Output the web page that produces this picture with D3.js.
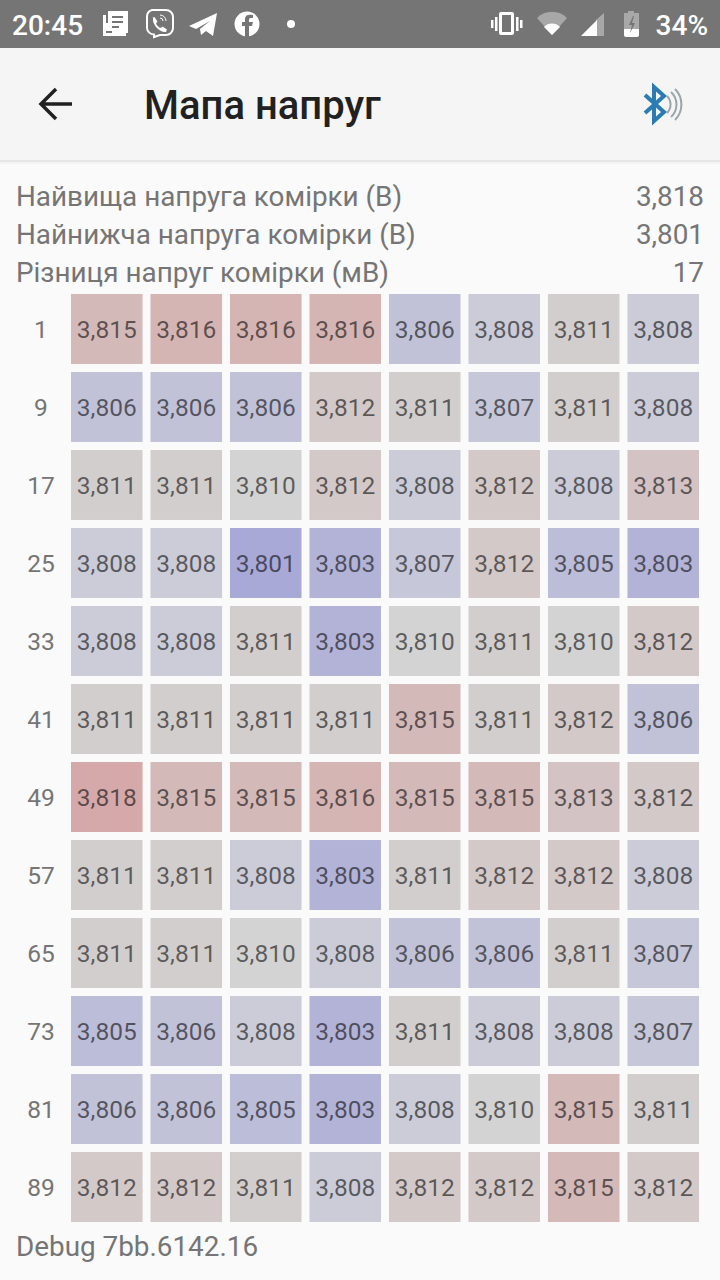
<!DOCTYPE html>
<meta charset="utf-8">
<style>
html, body { margin: 0; padding: 0; background: #fafafa; }
svg { display: block; font-family: Roboto, sans-serif; }
.cell text { font-size: 24.5px; fill: #000; fill-opacity: 0.58; text-anchor: middle; }
.row-label { font-size: 24.5px; fill: #757575; text-anchor: middle; }
.info { font-size: 27.85px; fill: #757575; }
</style>
<svg width="720" height="1280"></svg>
<script src="https://d3js.org/d3.v7.min.js"></script>
<script>

var svg = d3.select("svg"),
    width = +svg.attr("width"),
    height = +svg.attr("height");

// row start numbers, cell voltages in mV above 3 V (3,815 -> 815)
var rowLabels = [1, 9, 17, 25, 33, 41, 49, 57, 65, 73, 81, 89];
var columns = [0, 1, 2, 3, 4, 5, 6, 7];
var voltages = [
  [815, 816, 816, 816, 806, 808, 811, 808],
  [806, 806, 806, 812, 811, 807, 811, 808],
  [811, 811, 810, 812, 808, 812, 808, 813],
  [808, 808, 801, 803, 807, 812, 805, 803],
  [808, 808, 811, 803, 810, 811, 810, 812],
  [811, 811, 811, 811, 815, 811, 812, 806],
  [818, 815, 815, 816, 815, 815, 813, 812],
  [811, 811, 808, 803, 811, 812, 812, 808],
  [811, 811, 810, 808, 806, 806, 811, 807],
  [805, 806, 808, 803, 811, 808, 808, 807],
  [806, 806, 805, 803, 808, 810, 815, 811],
  [812, 812, 811, 808, 812, 812, 815, 812]
];
var infoLabels = ["Найвища напруга комірки (В)", "Найнижча напруга комірки (В)", "Різниця напруг комірки (мВ)"];
var infoValues = ["3,818", "3,801", "17"];

var x = d3.scaleBand().domain(columns).range([71, 699]).paddingInner(0.1);
var y = d3.scaleBand().domain(d3.range(rowLabels.length)).range([294, 1222]).paddingInner(0.103);
var color = d3.scaleLinear().domain([801, 808, 810, 818]).range(["#a9a9d7", "#cbccd8", "#d3d3d3", "#d5a9aa"]);
var fmt = function(v) { return "3," + v; };

// status bar
svg.append("rect").attr("width", width).attr("height", 48).attr("fill", "#757575");
var statusBar = svg.append("g").attr("fill", "#fff");
statusBar.append("text").attr("x", 12).attr("y", 35).attr("font-size", 28).attr("font-weight", 500).text("20:45");
statusBar.append("text").attr("x", 708).attr("y", 35).attr("font-size", 28).attr("font-weight", 500).attr("text-anchor", "end").text("34%");
// news icon
statusBar.append("path").attr("fill-rule", "evenodd").attr("d", "M108 11h20v22h-16v-2h-6v-8h2zM112 16v2h11v-2zM112 21v2h11v-2zM112 26v2h7v-2z");
statusBar.append("path").attr("d", "M103 15h3v18h20v3h-23z");
// viber icon
statusBar.append("path").attr("fill", "none").attr("stroke", "#fff").attr("stroke-width", 2).attr("d", "M152 10h14a7 7 0 0 1 7 7v11a7 7 0 0 1-7 7h-6l-6 2v-2.5a7 7 0 0 1-7-6.5v-11a7 7 0 0 1 5-7z");
statusBar.append("path").attr("d", "M152 18l2.5-1 3 4.5-1.5 2c1 2 2.5 3.5 4.5 4.5l2-1.5 4.5 3-1 2.5c-6 1-14-7-13-14z");
statusBar.append("path").attr("fill", "none").attr("stroke", "#fff").attr("stroke-width", 1).attr("d", "M160 15a6 6 0 0 1 6 6M160 18a3 3 0 0 1 3 3");
// telegram icon
statusBar.append("path").attr("d", "M189 26l28-13-4 23-7-5-5 4-1-6 10-8-14 8z");
// facebook icon
statusBar.append("circle").attr("cx", 247).attr("cy", 24).attr("r", 12.5);
statusBar.append("path").attr("fill", "#757575").attr("d", "M245 37v-11h-3v-4h3v-3c0-4 3-5 8-4v3c-3 0-4 0-4 2v2h4l-1 4h-3v11z");
statusBar.append("circle").attr("cx", 291).attr("cy", 24).attr("r", 4);
// vibrate icon
statusBar.append("path").attr("fill-rule", "evenodd").attr("d", "M501 12h11a2 2 0 0 1 2 2v19a2 2 0 0 1-2 2h-11a2 2 0 0 1-2-2v-19a2 2 0 0 1 2-2zM502 15v17h9v-17z");
statusBar.append("path").attr("d", "M491 20h2.5v8h-2.5zM495 17h2.5v14h-2.5zM516 17h2.5v14h-2.5zM520 20h2.5v8h-2.5z");
// wifi icon
statusBar.append("path").attr("fill", "#a8a8a8").attr("d", "M537 18a21 21 0 0 1 30 0l-15 17z");
statusBar.append("path").attr("d", "M544 27a11 11 0 0 1 16 0l-8 8z");
// signal icon
statusBar.append("path").attr("fill", "#a8a8a8").attr("d", "M604 13v23h-8v-16z");
statusBar.append("path").attr("d", "M597 20v16h-16z");
// battery icon
statusBar.append("path").attr("fill", "#a8a8a8").attr("d", "M628 11h6v2h5v16h-15v-16h4z");
statusBar.append("path").attr("d", "M624 29h15v6a2 2 0 0 1-2 2h-11a2 2 0 0 1-2-2z");
statusBar.append("path").attr("fill", "#757575").attr("d", "M633 16l-4 9h3l-2 8 5-10h-3l2-7z");

// app bar
svg.append("rect").attr("y", 48).attr("width", width).attr("height", 112).attr("fill", "#f5f5f5");
svg.append("rect").attr("y", 160).attr("width", width).attr("height", 2).attr("fill", "#e6e6e6");
svg.append("rect").attr("y", 162).attr("width", width).attr("height", 2).attr("fill", "#f3f3f3");
svg.append("path").attr("fill", "none").attr("stroke", "#212121").attr("stroke-width", 3.5)
    .attr("d", "M72 104H42M56 89L41 104L56 119");
svg.append("text").attr("x", 144).attr("y", 119).attr("font-size", 40).attr("font-weight", 500).attr("fill", "#212121").text("Мапа напруг");
// bluetooth icon
svg.append("path").attr("fill", "none").attr("stroke", "#2b7cb3").attr("stroke-width", 4)
    .attr("d", "M645 95L664 112L654 121V87L664 96L645 113");
svg.append("path").attr("fill", "none").attr("stroke", "#9aa5a8").attr("stroke-width", 2)
    .attr("d", "M667 96a12 12 0 0 1 0 17M671 92a17 17 0 0 1 0 25M675 89a22 22 0 0 1 0 31");

// info rows
var info = svg.append("g").selectAll("g").data(infoLabels).enter().append("g");
info.append("text").attr("class", "info").attr("x", 16)
    .attr("y", function(d, i) { return 206 + i * 38; })
    .text(function(d) { return d; });
info.append("text").attr("class", "info").attr("x", 704).attr("text-anchor", "end")
    .attr("y", function(d, i) { return 206 + i * 38; })
    .text(function(d, i) { return infoValues[i]; });

// grid
var rows = svg.append("g").selectAll("g").data(voltages).enter().append("g")
    .attr("transform", function(d, i) { return "translate(0," + y(i) + ")"; });

rows.append("text").attr("class", "row-label").attr("x", 41)
    .attr("y", y.bandwidth() / 2 + 9)
    .text(function(d, i) { return rowLabels[i]; });

var cells = rows.selectAll(".cell").data(function(d) { return d; }).enter().append("g")
    .attr("class", "cell")
    .attr("transform", function(d, i) { return "translate(" + x(i) + ",0)"; });

cells.append("rect")
    .attr("width", x.bandwidth())
    .attr("height", y.bandwidth())
    .attr("fill", function(d) { return color(d); });

cells.append("text")
    .attr("x", x.bandwidth() / 2)
    .attr("y", y.bandwidth() / 2 + 9)
    .text(fmt);

svg.append("text").attr("class", "info").attr("x", 16).attr("y", 1256).text("Debug 7bb.6142.16");

</script>
